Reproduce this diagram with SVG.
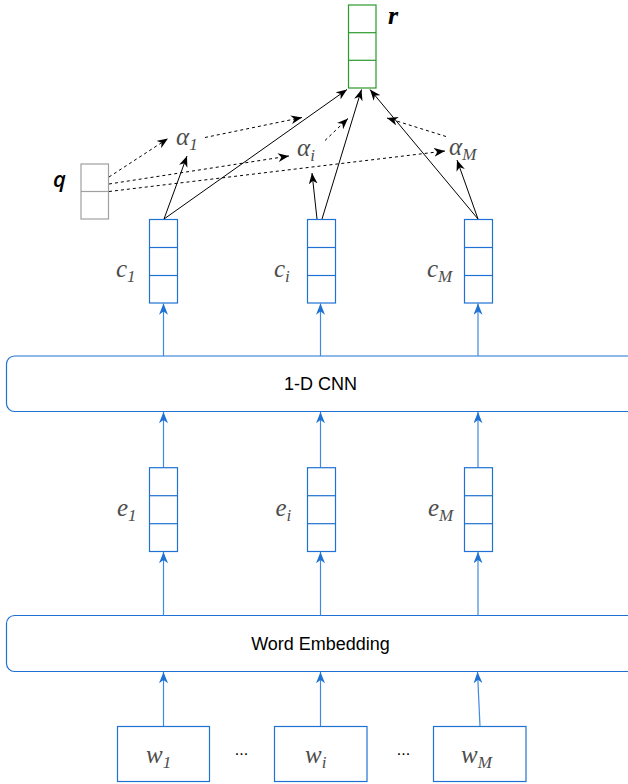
<svg xmlns="http://www.w3.org/2000/svg" width="628" height="784" viewBox="0 0 628 784">
<style>
.bx{fill:#fff;stroke:#1f72d3;stroke-width:1.2}
.dv{stroke:#1f72d3;stroke-width:1.2}
.gr{fill:#fff;stroke:#2a9a2a;stroke-width:1.2}
.gdv{stroke:#2a9a2a;stroke-width:1.2}
.qb{fill:#fff;stroke:#a0a0a0;stroke-width:1.2}
.qdv{stroke:#a0a0a0;stroke-width:1.2}
.lay{fill:#fff;stroke:#1f72d3;stroke-width:1.2}
.blue{fill:none;stroke:#3d8ae0;stroke-width:1.2;marker-end:url(#ablue)}
.blk{fill:none;stroke:#000;stroke-width:1;marker-end:url(#ablk)}
.dsh{fill:none;stroke:#000;stroke-width:1;stroke-dasharray:3 3;marker-end:url(#ablk)}
.m{font-family:"Liberation Serif",serif;font-style:italic;font-size:25px;fill:#4d4d4d}
.s{font-size:17px}
.r{font-family:"Liberation Serif",serif;font-style:italic;font-weight:bold;font-size:26px;fill:#000}
.q{font-family:"Open Sans","DejaVu Sans",sans-serif;font-style:italic;font-weight:600;font-size:22px;fill:#000}
.t{font-family:"Liberation Sans",Arial,sans-serif;font-size:18px;fill:#000;text-anchor:middle}
.d{font-family:"Liberation Sans",Arial,sans-serif;font-size:16px;fill:#000;text-anchor:middle}
</style>
<defs>
<marker id="ablk" viewBox="0 0 10 8" refX="10" refY="4" markerWidth="11" markerHeight="9" orient="auto" markerUnits="userSpaceOnUse"><path d="M0,0 L10,4 L0,8 L3,4 Z" fill="#000"/></marker>
<marker id="ablue" viewBox="0 0 10 8" refX="10" refY="4" markerWidth="12" markerHeight="9" orient="auto" markerUnits="userSpaceOnUse"><path d="M0,0 L10,4 L0,8 L3,4 Z" fill="#1f72d3"/></marker>
</defs>

<g id="cnn">
<rect class="lay" x="6.5" y="356" width="640" height="55.5" rx="8"/>
<text class="t" x="320.5" y="390">1-D CNN</text>
</g>
<g id="embedding">
<rect class="lay" x="6.5" y="615.5" width="640" height="56" rx="8"/>
<text class="t" x="320.5" y="650">Word Embedding</text>
</g>

<g id="connectors">
<path class="blue" d="M163.5,726.5 V672"/>
<path class="blue" d="M320.5,726.5 V672"/>
<path class="blue" d="M480,726.5 L477.5,672"/>
<path class="blue" d="M163.5,615.5 V552"/>
<path class="blue" d="M320.5,615.5 V552"/>
<path class="blue" d="M478,615.5 V552"/>
<path class="blue" d="M163.5,467.5 V412"/>
<path class="blue" d="M320.5,467.5 V412"/>
<path class="blue" d="M478,467.5 V412"/>
<path class="blue" d="M163.5,356 V303.5"/>
<path class="blue" d="M320.5,356 V303.5"/>
<path class="blue" d="M478,356 V303.5"/>
<path class="blk" d="M164,219 L187,156"/>
<path class="blk" d="M164,219 L347,89.5"/>
<path class="blk" d="M317,219 L312,173"/>
<path class="blk" d="M322,219 L361.5,89.5"/>
<path class="blk" d="M478,219 L457,160"/>
<path class="blk" d="M478,219 L370,89.5"/>
<path class="dsh" d="M109,177 L168,138.5"/>
<path class="dsh" d="M205,137.5 L302,117.5"/>
<path class="dsh" d="M109,184 L289,156"/>
<path class="dsh" d="M109,191.5 L445,151"/>
<path class="dsh" d="M325,140.5 L348,118.5"/>
<path class="dsh" d="M446,136.5 L387,118"/>
</g>

<g id="r">
<rect class="gr" x="348.5" y="5" width="27.5" height="83"/>
<line class="gdv" x1="348.5" y1="32.7" x2="376" y2="32.7"/>
<line class="gdv" x1="348.5" y1="60.3" x2="376" y2="60.3"/>
<text class="r" x="388" y="24">r</text>
</g>

<g id="q">
<rect class="qb" x="81" y="164" width="27.5" height="55"/>
<line class="qdv" x1="81" y1="191.5" x2="108.5" y2="191.5"/>
<text class="q" x="53" y="187">q</text>
</g>

<g id="alpha1"><text class="m" x="176" y="145">α<tspan class="s" dy="5">1</tspan></text></g>
<g id="alphai"><text class="m" x="297" y="156">α<tspan class="s" dy="5">i</tspan></text></g>
<g id="alphaM"><text class="m" x="449" y="154.5">α<tspan class="s" dy="5">M</tspan></text></g>

<g id="c1">
<rect class="bx" x="149.5" y="219.5" width="28" height="83.5"/>
<line class="dv" x1="149.5" y1="247.5" x2="177.5" y2="247.5"/>
<line class="dv" x1="149.5" y1="275.5" x2="177.5" y2="275.5"/>
<text class="m" x="116" y="277">c<tspan class="s" dy="5">1</tspan></text>
</g>
<g id="ci">
<rect class="bx" x="307.5" y="219.5" width="28" height="83.5"/>
<line class="dv" x1="307.5" y1="247.5" x2="335.5" y2="247.5"/>
<line class="dv" x1="307.5" y1="275.5" x2="335.5" y2="275.5"/>
<text class="m" x="274" y="277">c<tspan class="s" dy="5">i</tspan></text>
</g>
<g id="cM">
<rect class="bx" x="464.5" y="219.5" width="28" height="83.5"/>
<line class="dv" x1="464.5" y1="247.5" x2="492.5" y2="247.5"/>
<line class="dv" x1="464.5" y1="275.5" x2="492.5" y2="275.5"/>
<text class="m" x="427" y="277">c<tspan class="s" dy="5">M</tspan></text>
</g>

<g id="e1">
<rect class="bx" x="149.5" y="467.7" width="28" height="83.8"/>
<line class="dv" x1="149.5" y1="495.7" x2="177.5" y2="495.7"/>
<line class="dv" x1="149.5" y1="523.7" x2="177.5" y2="523.7"/>
<text class="m" x="117" y="516">e<tspan class="s" dy="5">1</tspan></text>
</g>
<g id="ei">
<rect class="bx" x="307.5" y="467.7" width="28" height="83.8"/>
<line class="dv" x1="307.5" y1="495.7" x2="335.5" y2="495.7"/>
<line class="dv" x1="307.5" y1="523.7" x2="335.5" y2="523.7"/>
<text class="m" x="275.5" y="516">e<tspan class="s" dy="5">i</tspan></text>
</g>
<g id="eM">
<rect class="bx" x="464.5" y="467.7" width="28" height="83.8"/>
<line class="dv" x1="464.5" y1="495.7" x2="492.5" y2="495.7"/>
<line class="dv" x1="464.5" y1="523.7" x2="492.5" y2="523.7"/>
<text class="m" x="428" y="516">e<tspan class="s" dy="5">M</tspan></text>
</g>

<g id="w1">
<rect class="bx" x="117.5" y="726.5" width="92" height="55"/>
<text class="m" x="146" y="763">w<tspan class="s" dy="5">1</tspan></text>
</g>
<g id="wi">
<rect class="bx" x="274.5" y="726.5" width="92.5" height="55"/>
<text class="m" x="305" y="763">w<tspan class="s" dy="5">i</tspan></text>
</g>
<g id="wM">
<rect class="bx" x="433.5" y="726.5" width="92.5" height="55"/>
<text class="m" x="461" y="763">w<tspan class="s" dy="5">M</tspan></text>
</g>

<g id="dots">
<text class="d" x="241.5" y="755">...</text>
<text class="d" x="403.5" y="755">...</text>
</g>
</svg>
